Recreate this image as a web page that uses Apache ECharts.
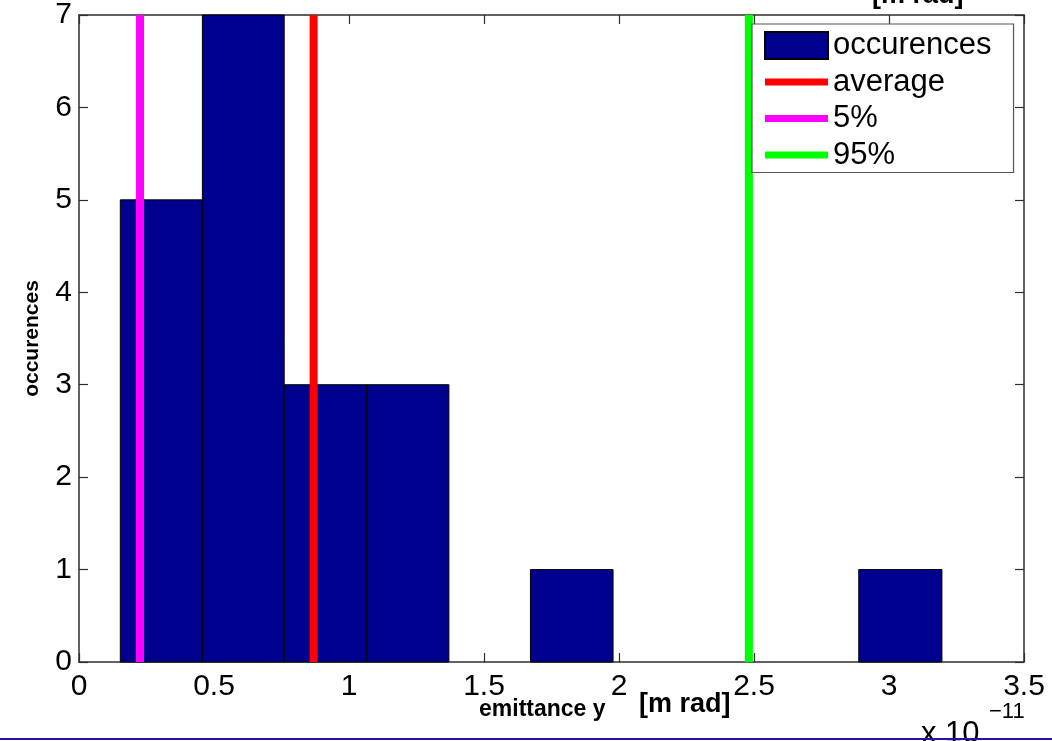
<!DOCTYPE html>
<html>
<head>
<meta charset="utf-8">
<script src="https://cdn.jsdelivr.net/npm/echarts@6/dist/echarts.min.js"></script>
<style>
  html, body { margin: 0; padding: 0; background: #fff; }
  #chart { width: 1052px; height: 741px; }
</style>
</head>
<body>
<div id="chart"></div>
<script>
// histogram bin edges (x 1e-11 m rad) and counts per bin
const binEdges = [0.153, 0.457, 0.760, 1.066, 1.370, 1.672, 1.978, 2.281, 2.585, 2.888, 3.196];
const binCounts = [5, 7, 3, 3, 0, 1, 0, 0, 0, 1];
// marker lines
const averageX = 0.869;
const pct5X = 0.226;
const pct95X = 2.481;
// axes
const xTicks = [0, 0.5, 1, 1.5, 2, 2.5, 3, 3.5];
const yTicks = [0, 1, 2, 3, 4, 5, 6, 7];

const FONT = '"Liberation Sans", Arial, sans-serif';
const frameColor = '#2e2e2e';
// thick line legend icon: bounding box 63x27, visible bar 7px in the middle
const lineIcon = 'path://M0,0M63,27M0,10H63V17H0Z';

const histData = [];
for (let i = 0; i < binCounts.length; i++) {
  if (binCounts[i] > 0) histData.push([binEdges[i], binEdges[i + 1], binCounts[i]]);
}
const vline = (x) => [[x, yTicks[0]], [x, yTicks[yTicks.length - 1]]];

const chart = echarts.init(document.getElementById('chart'), null, { renderer: 'canvas' });

const axisCommon = {
  axisLine: { show: true, onZero: false, lineStyle: { color: frameColor, width: 1.5 } },
  axisTick: { show: true, inside: true, length: 9, lineStyle: { color: frameColor, width: 1.2 } },
  splitLine: { show: false }
};

const option = {
  animation: false,
  textStyle: { fontFamily: FONT },
  grid: { left: 79, top: 15, right: 28, bottom: 79, containLabel: false },
  legend: {
    orient: 'vertical',
    left: 752,
    top: 24,
    padding: [6, 22, 2, 12],
    itemGap: 5.5,
    itemWidth: 63,
    itemHeight: 27,
    backgroundColor: '#fff',
    borderColor: '#555',
    borderWidth: 1.2,
    borderRadius: 0,
    textStyle: { fontSize: 31, lineHeight: 27, color: '#000', fontFamily: FONT },
    data: [
      { name: 'occurences', icon: 'rect' },
      { name: 'average', icon: lineIcon },
      { name: '5%', icon: lineIcon },
      { name: '95%', icon: lineIcon }
    ]
  },
  xAxis: [
    Object.assign({
      type: 'value', position: 'bottom', min: xTicks[0], max: xTicks[xTicks.length - 1], interval: 0.5,
      axisLabel: { fontSize: 30, color: '#000', margin: 10, fontFamily: FONT }
    }, axisCommon),
    Object.assign({
      type: 'value', position: 'top', min: xTicks[0], max: xTicks[xTicks.length - 1], interval: 0.5,
      axisLabel: { show: false }
    }, axisCommon)
  ],
  yAxis: [
    Object.assign({
      type: 'value', position: 'left', min: yTicks[0], max: yTicks[yTicks.length - 1], interval: 1,
      name: 'occurences', nameLocation: 'middle', nameGap: 36, nameRotate: 90,
      nameTextStyle: { fontSize: 21, fontWeight: 'bold', color: '#000', fontFamily: FONT },
      axisLabel: { fontSize: 30, color: '#000', margin: 7, fontFamily: FONT }
    }, axisCommon),
    Object.assign({
      type: 'value', position: 'right', min: yTicks[0], max: yTicks[yTicks.length - 1], interval: 1,
      axisLabel: { show: false }
    }, axisCommon)
  ],
  series: [
    {
      name: 'occurences',
      type: 'custom',
      xAxisIndex: 0,
      yAxisIndex: 0,
      itemStyle: { color: '#00008F', borderColor: '#000', borderWidth: 1 },
      encode: { x: [0, 1], y: 2 },
      renderItem: function (params, api) {
        const p0 = api.coord([api.value(0), 0]);
        const p1 = api.coord([api.value(1), api.value(2)]);
        return {
          type: 'rect',
          shape: { x: p0[0], y: p1[1], width: p1[0] - p0[0], height: p0[1] - p1[1] },
          style: { fill: '#00008F', stroke: '#000', lineWidth: 1 }
        };
      },
      data: histData,
      z: 2
    },
    {
      name: 'average', type: 'line', symbol: 'none', showSymbol: false,
      lineStyle: { color: '#FF0000', width: 8 }, itemStyle: { color: '#FF0000' },
      data: vline(averageX), z: 3
    },
    {
      name: '5%', type: 'line', symbol: 'none', showSymbol: false,
      lineStyle: { color: '#FF00FF', width: 8 }, itemStyle: { color: '#FF00FF' },
      data: vline(pct5X), z: 3
    },
    {
      name: '95%', type: 'line', symbol: 'none', showSymbol: false,
      lineStyle: { color: '#00FF00', width: 8 }, itemStyle: { color: '#00FF00' },
      data: vline(pct95X), z: 3
    }
  ],
  graphic: [
    {
      type: 'text', left: 479, top: 698,
      style: { text: 'emittance y', fontSize: 23, fontWeight: 'bold', fill: '#000', fontFamily: FONT }
    },
    {
      type: 'text', left: 639, top: 691,
      style: { text: '[m rad]', fontSize: 27, fontWeight: 'bold', fill: '#000', fontFamily: FONT }
    },
    {
      type: 'text', left: 921, top: 719,
      style: { text: 'x 10', fontSize: 31, fill: '#000', fontFamily: FONT }
    },
    {
      type: 'text', left: 989, top: 701,
      style: { text: '\u221211', fontSize: 22, fill: '#000', fontFamily: FONT }
    },
    {
      type: 'text', left: 872, top: -18,
      style: { text: '[m rad]', fontSize: 27, fontWeight: 'bold', fill: '#000', fontFamily: FONT }
    },
    {
      type: 'rect', left: 0, top: 738,
      shape: { width: 1052, height: 2 },
      style: { fill: '#2a12a6' }
    }
  ]
};

chart.setOption(option);
</script>
</body>
</html>
